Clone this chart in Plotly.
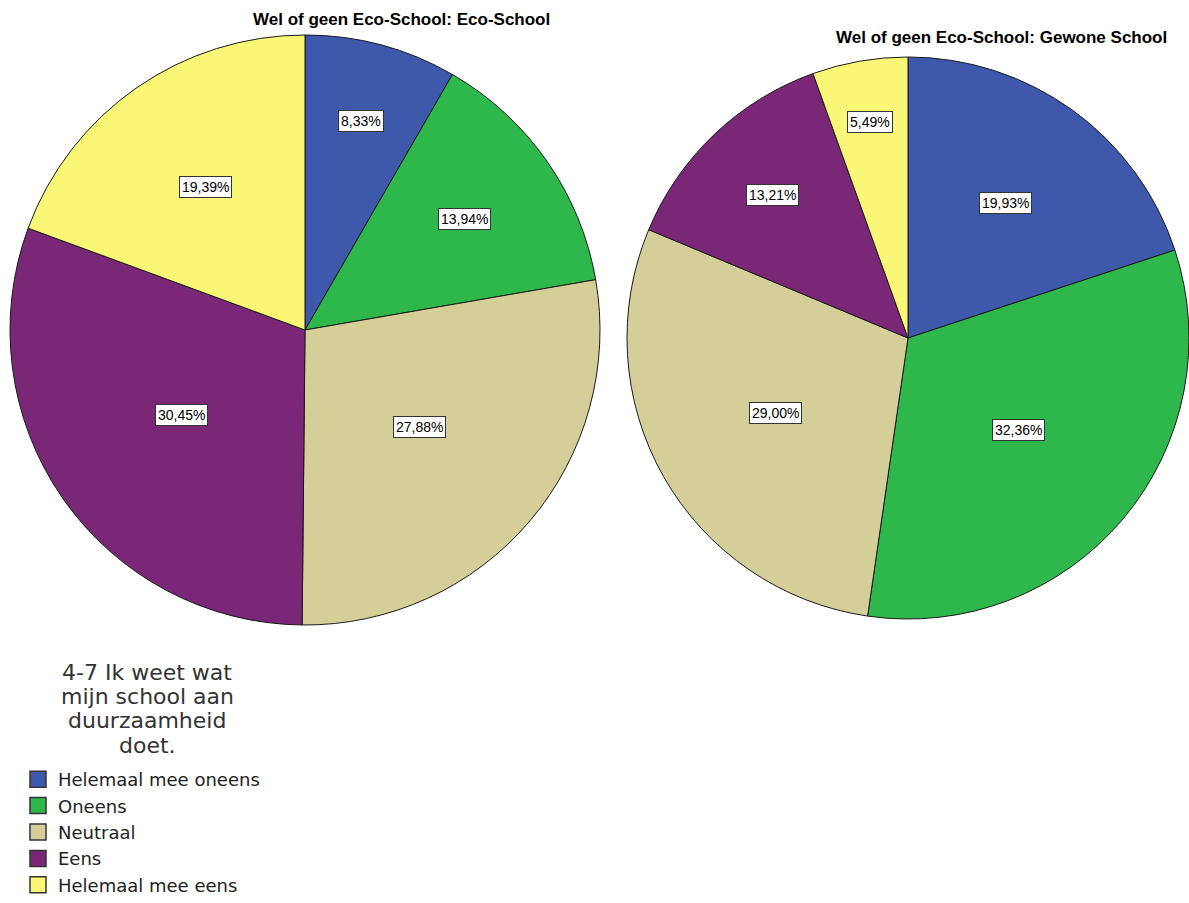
import math
import plotly.graph_objects as go

# Survey answers for statement 4-7, split by school type
categories = ["Helemaal mee oneens", "Oneens", "Neutraal", "Eens", "Helemaal mee eens"]
eco_school = [8.33, 13.94, 27.88, 30.45, 19.39]
gewone_school = [19.93, 32.36, 29.00, 13.21, 5.49]
titles = ["Wel of geen Eco-School: Eco-School", "Wel of geen Eco-School: Gewone School"]
legend_title_lines = ["4-7 Ik weet wat", "mijn school aan", "duurzaamheid", "doet."]

colors = ["#3E58AC", "#2EB84B", "#D4CF98", "#7B2778", "#FAF776"]

W, H = 1189, 903
FONT = "Liberation Sans, Arial, sans-serif"

# Pie geometry (pixel centre and radius) and label distance from centre (fraction of radius)
pies = [
    dict(values=eco_school, cx=305, cy=330, r=295, label_r=[0.735, 0.66, 0.51, 0.51, 0.59]),
    dict(values=gewone_school, cx=908, cy=338, r=281, label_r=[0.594, 0.512, 0.541, 0.70, 0.78]),
]


def fmt(v):
    return f"{v:.2f}".replace(".", ",") + "%"


fig = go.Figure()
annotations = []
for i, p in enumerate(pies):
    cx, cy, r = p["cx"], p["cy"], p["r"]
    fig.add_trace(go.Pie(
        labels=categories,
        values=p["values"],
        sort=False,
        direction="clockwise",
        rotation=0,
        textinfo="none",
        hoverinfo="label+percent",
        marker=dict(colors=colors, line=dict(color="#1a1a1a", width=1)),
        domain=dict(x=[(cx - r) / W, min((cx + r) / W, 1.0)],
                    y=[1 - (cy + r) / H, 1 - (cy - r) / H]),
        showlegend=False,
    ))
    total = sum(p["values"])
    cum = 0.0
    for v, f in zip(p["values"], p["label_r"]):
        mid = (cum + v / 2) / total * 2 * math.pi
        cum += v
        px = cx + f * r * math.sin(mid)
        py = cy - f * r * math.cos(mid)
        annotations.append(dict(
            x=px / W, y=1 - py / H, xref="paper", yref="paper",
            xanchor="center", yanchor="middle",
            text=fmt(v), showarrow=False,
            font=dict(family=FONT, size=14, color="#000"),
            bgcolor="#ffffff", bordercolor="#333333", borderwidth=1, borderpad=2,
        ))

# Legend entries with larger square swatches (legend-only traces)
for name, c in zip(categories, colors):
    fig.add_trace(go.Scatter(
        x=[None], y=[None], mode="markers", name=name,
        marker=dict(symbol="square", size=16, color=c, line=dict(color="#333333", width=1.5)),
        showlegend=True, hoverinfo="skip",
    ))

# Panel titles
for text, tx, ty in [(titles[0], 401, 20), (titles[1], 1001, 37)]:
    annotations.append(dict(x=tx / W, y=1 - ty / H, xref="paper", yref="paper",
                            xanchor="center", yanchor="middle", text=f"<b>{text}</b>",
                            showarrow=False, font=dict(family=FONT, size=17, color="#000")))

# Legend heading, one centred line at a time
for k, line in enumerate(legend_title_lines):
    annotations.append(dict(x=147 / W, y=1 - (672 + 24.4 * k) / H, xref="paper", yref="paper",
                            text=line, showarrow=False, xanchor="center", yanchor="middle",
                            font=dict(family="DejaVu Sans, sans-serif", size=22, color="#333")))

fig.update_layout(
    width=W, height=H,
    margin=dict(l=0, r=0, t=0, b=0),
    paper_bgcolor="#ffffff",
    plot_bgcolor="#ffffff",
    xaxis=dict(visible=False),
    yaxis=dict(visible=False),
    annotations=annotations,
    legend=dict(
        x=18 / W, y=0, xanchor="left", yanchor="bottom",
        bgcolor="rgba(0,0,0,0)",
        font=dict(family="DejaVu Sans, sans-serif", size=18, color="#222"),
        traceorder="normal",
        tracegroupgap=0,
    ),
)

fig.write_html("out.html")
